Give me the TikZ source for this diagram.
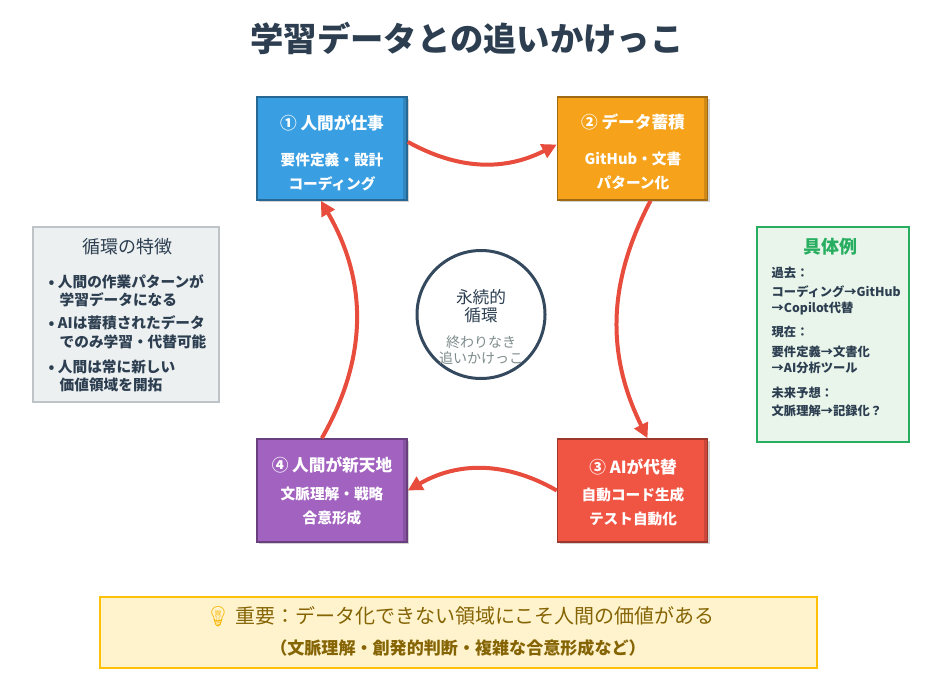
\documentclass[tikz,border=0pt]{standalone}
\usepackage{fontspec}
\setmainfont{Noto Sans CJK JP}
\newfontfamily\emojifont{Noto Emoji}
\usetikzlibrary{arrows.meta,shadows}

\definecolor{titlecol}{HTML}{2C3E50}
\definecolor{ringcol}{HTML}{34495E}
\definecolor{greycol}{HTML}{7F8C8D}
\definecolor{bluebox}{HTML}{3A9FE2}
\definecolor{orangebox}{HTML}{F6A31B}
\definecolor{redbox}{HTML}{F05443}
\definecolor{purplebox}{HTML}{A262C0}
\definecolor{arrowcol}{HTML}{E74C3C}
\definecolor{featfill}{HTML}{ECF0F1}
\definecolor{featline}{HTML}{BDC3C7}
\definecolor{exfill}{HTML}{E9F5EA}
\definecolor{exline}{HTML}{27AE60}
\definecolor{notefill}{HTML}{FFF3CD}
\definecolor{noteline}{HTML}{FFC107}
\definecolor{notetext}{HTML}{856404}
\definecolor{bulbcol}{HTML}{F7B500}

\newcommand\fsz[1]{\fontsize{#1}{#1}\selectfont}

\tikzset{
  stagebox/.style={rectangle, minimum width=112.5pt, minimum height=77.25pt, fill=#1, draw=#1!65!black, line width=1.2pt,
    drop shadow={opacity=.35, shadow xshift=1.5pt, shadow yshift=-1.5pt},
    path picture={
      \fill[white, opacity=.3] (path picture bounding box.north west) rectangle ([yshift=3pt]path picture bounding box.north east);
      \fill[black, opacity=.25] (path picture bounding box.south west) rectangle ([yshift=-3pt]path picture bounding box.south east);
      \fill[black, opacity=.15] (path picture bounding box.north east) rectangle ([xshift=-3pt]path picture bounding box.south east);
    }},
  stagetitle/.style={text=white, font=\fsz{12.5}\bfseries},
  stageline/.style={text=white, font=\fsz{11}\bfseries},
  cyclearrow/.style={arrowcol, line width=3pt, -{Triangle[length=11pt,width=11pt]}},
  panel/.style={rectangle, line width=1.5pt},
  featitem/.style={anchor=west, text=titlecol, font=\fsz{11}\bfseries},
  exitem/.style={anchor=west, text=titlecol, font=\fsz{9.2}\bfseries}
}

\begin{document}
\begin{tikzpicture}[x=0.75pt,y=0.75pt,yscale=-1,xscale=1]

\useasboundingbox (0,0) rectangle (942,696);

% Title
\node[text=titlecol, font=\fsz{25}\bfseries] (heading) at (467,38) {学習データとの追いかけっこ};

% Stage boxes
\node[stagebox=bluebox] (work) at (332,148.5) {};
\node[stagebox=orangebox] (store) at (632.5,148.5) {};
\node[stagebox=redbox] (replace) at (632.5,490.5) {};
\node[stagebox=purplebox] (frontier) at (332,490.5) {};

% Text Node
\node[stagetitle] (worktitle) at (332,123) {① 人間が仕事};
\node[stageline] (workline1) at (332,160) {要件定義・設計};
\node[stageline] (workline2) at (332,184) {コーディング};
% Text Node
\node[stagetitle] (storetitle) at (633,122) {② データ蓄積};
\node[stageline] (storeline1) at (633,159) {GitHub・文書};
\node[stageline] (storeline2) at (633,183) {パターン化};
% Text Node
\node[stagetitle] (replacetitle) at (633,467) {③ AIが代替};
\node[stageline] (replaceline1) at (633,495) {自動コード生成};
\node[stageline] (replaceline2) at (633,519) {テスト自動化};
% Text Node
\node[stagetitle] (frontiertitle) at (332,465) {④ 人間が新天地};
\node[stageline] (frontierline1) at (332,494) {文脈理解・戦略};
\node[stageline] (frontierline2) at (332,518) {合意形成};

% Cycle arrows
\draw[cyclearrow] (work.5) to[bend left=28] (store.177);
\draw[cyclearrow] (store.-71) to[bend left=27] (replace.74);
\draw[cyclearrow] (replace.west) to[bend left=30] (frontier.east);
\draw[cyclearrow] (frontier.101) to[bend left=30] (work.-102);

% Centre ring
\node[circle, draw=ringcol, line width=2.25pt, fill=white, minimum size=96pt] (loop) at (481,314.5) {};
\node[text=titlecol, font=\fontsize{12.5}{13}\selectfont, align=center] (looptitle) at (481,306) {永続的\\循環};
\node[text=greycol, font=\fontsize{10.5}{12}\selectfont, align=center] (loopsub) at (481,350) {終わりなき\\追いかけっこ};

% Left panel
\node[panel, fill=featfill, draw=featline, minimum width=139.5pt, minimum height=131.25pt] (feat) at (125.5,314) {};
\node[text=titlecol, font=\fsz{13.5}] (feattitle) at (127,247) {循環の特徴};
\node[featitem] (feat1) at (44,282) {• 人間の作業パターンが};
\node[featitem] (feat1b) at (55,300) {学習データになる};
\node[featitem] (feat2) at (44,323) {• AIは蓄積されたデータ};
\node[featitem] (feat2b) at (55,342) {でのみ学習・代替可能};
\node[featitem] (feat3) at (44,367) {• 人間は常に新しい};
\node[featitem] (feat3b) at (55,385) {価値領域を開拓};

% Right panel
\node[panel, fill=exfill, draw=exline, minimum width=114pt, minimum height=161.25pt] (ex) at (833,334.5) {};
\node[text=exline, font=\fsz{13.5}\bfseries] (extitle) at (830,247) {具体例};
\node[exitem] (ex1) at (767,273) {過去：};
\node[exitem] (ex1a) at (767,292) {コーディング→GitHub};
\node[exitem] (ex1b) at (767,309) {→Copilot代替};
\node[exitem] (ex2) at (767,332) {現在：};
\node[exitem] (ex2a) at (767,352) {要件定義→文書化};
\node[exitem] (ex2b) at (767,368) {→AI分析ツール};
\node[exitem] (ex3) at (767,393) {未来予想：};
\node[exitem] (ex3a) at (767,411) {文脈理解→記録化？};

% Note
\node[panel, fill=notefill, draw=noteline, minimum width=537.75pt, minimum height=53.25pt] (note) at (458.5,632.5) {};
\node[text=notetext, font=\fsz{15}] (noteline1) at (460,617) {{\emojifont\textcolor{bulbcol}{💡}} 重要：データ化できない領域にこそ人間の価値がある};
\node[text=notetext, font=\fsz{12.8}\bfseries] (noteline2) at (458,648) {（文脈理解・創発的判断・複雑な合意形成など）};

\end{tikzpicture}
\end{document}
